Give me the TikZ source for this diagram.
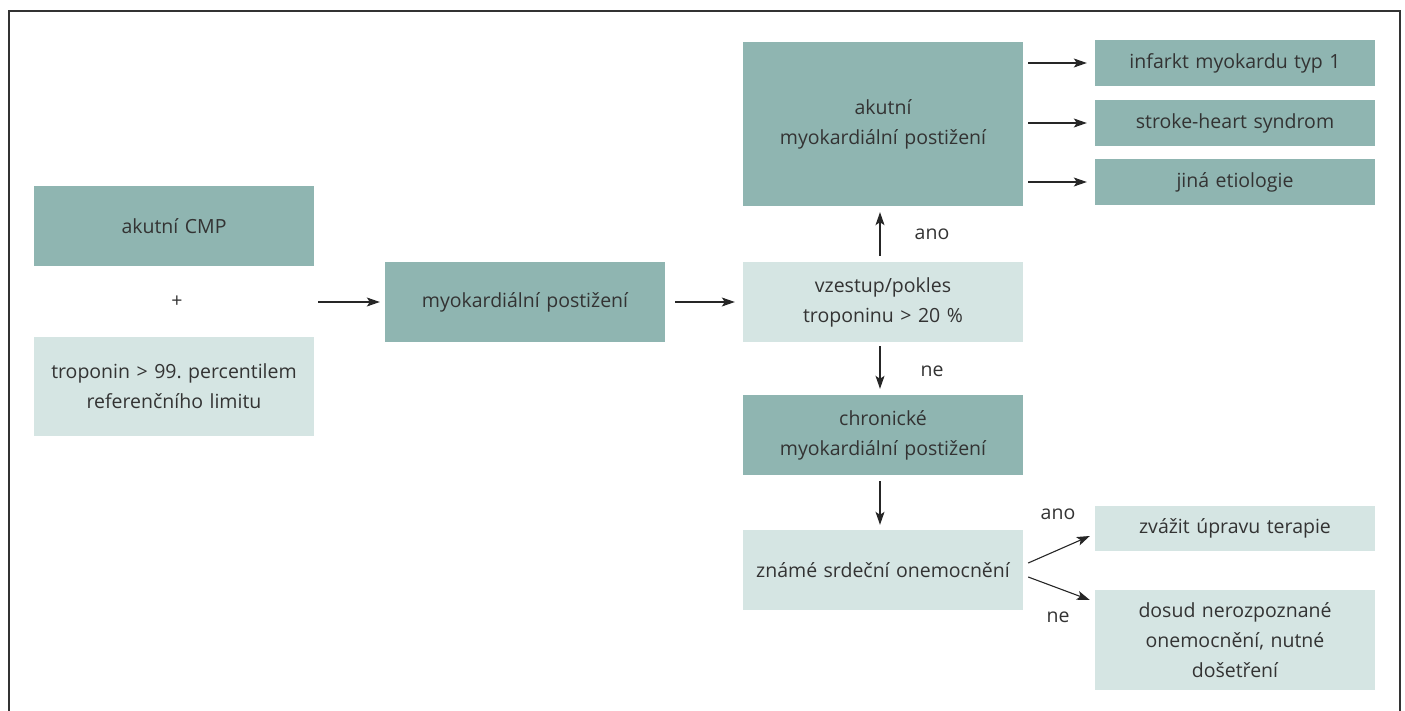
\documentclass[tikz,border=0pt]{standalone}
\usepackage{fontspec}
\setmainfont{Open Sans}
\usetikzlibrary{arrows.meta,calc}
\definecolor{darkbox}{HTML}{8FB5B1}
\definecolor{lightbox}{HTML}{D5E5E3}
\definecolor{txt}{HTML}{333333}
\definecolor{frame}{HTML}{333333}
\frenchspacing
\begin{document}
\begin{tikzpicture}[x=1pt,y=-1pt,
  box/.style={minimum width=280pt,inner sep=0pt,align=center,text width=276pt,
    font=\fontsize{19.5}{30}\selectfont\color{txt}},
  dbox/.style={box,fill=darkbox},
  lbox/.style={box,fill=lightbox},
  lab/.style={font=\fontsize{19.5}{22}\selectfont\color{txt},inner sep=0pt},
  arr/.style={-{Stealth[length=13pt,width=9pt,inset=3pt]},line width=1.1pt,draw=black!85}]
\useasboundingbox (0,0) rectangle (1405,711);
\draw[frame,line width=1.6pt] (9,711) -- (9,11) -- (1400,11) -- (1400,711);
\node[dbox,minimum height=80pt] (cmp) at (174,226) {akutní CMP};
\node[lab] (plus) at (177,302) {+};
\node[lbox,minimum height=99pt] (trop) at (174,386.5) {troponin > 99. percentilem\\referenčního limitu};
\node[dbox,minimum height=80pt] (myo) at (525,302) {myokardiální postižení};
\node[lbox,minimum height=80pt] (vze) at (883,302) {vzestup/pokles\\troponinu > 20 \%};
\node[dbox,minimum height=164pt] (aku) at (883,124) {akutní\\myokardiální postižení};
\node[dbox,minimum height=46pt] (inf) at (1235,63) {infarkt myokardu typ 1};
\node[dbox,minimum height=46pt] (str) at (1235,123) {stroke-heart syndrom};
\node[dbox,minimum height=46pt] (jin) at (1235,182) {jiná etiologie};
\node[dbox,minimum height=80pt] (chr) at (883,435) {chronické\\myokardiální postižení};
\node[lbox,minimum height=80pt] (zna) at (883,570) {známé srdeční onemocnění};
\node[lbox,minimum height=45pt] (zva) at (1235,528.5) {zvážit úpravu terapie};
\node[lbox,minimum height=100pt] (dos) at (1235,640) {dosud nerozpoznané\\onemocnění, nutné\\došetření};
\coordinate (plusR) at (314,302);
\draw[arr,shorten <=4pt,shorten >=5pt] (plusR) -- (myo.west);
\draw[arr,shorten <=10pt,shorten >=8pt] (myo.east) -- (vze.west);
\draw[arr,shorten <=6pt,shorten >=6pt] ([xshift=-3pt]vze.north) -- ([xshift=-3pt]aku.south);
\draw[arr,shorten <=4pt,shorten >=6pt] ([xshift=-3pt]vze.south) -- ([xshift=-3pt]chr.north);
\draw[arr,shorten <=6pt,shorten >=5pt] ([xshift=-3pt]chr.south) -- ([xshift=-3pt]zna.north);
\draw[arr,shorten <=5pt,shorten >=8pt] (aku.east |- inf.west) -- (inf.west);
\draw[arr,shorten <=5pt,shorten >=8pt] (aku.east |- str.west) -- (str.west);
\draw[arr,shorten <=5pt,shorten >=8pt] (aku.east |- jin.west) -- (jin.west);
\draw[arr] ($(zna.east)+(5,-7)$) -- ($(zva.west)+(-5,7.5)$);
\draw[arr] ($(zna.east)+(5,7)$) -- ($(dos.west)+(-5,-40)$);
\node[lab] (ano1) at (932,234) {ano};
\node[lab] (ne1) at (932,371) {ne};
\node[lab] (ano2) at (1058,514) {ano};
\node[lab] (ne2) at (1058,617) {ne};
\end{tikzpicture}
\end{document}
